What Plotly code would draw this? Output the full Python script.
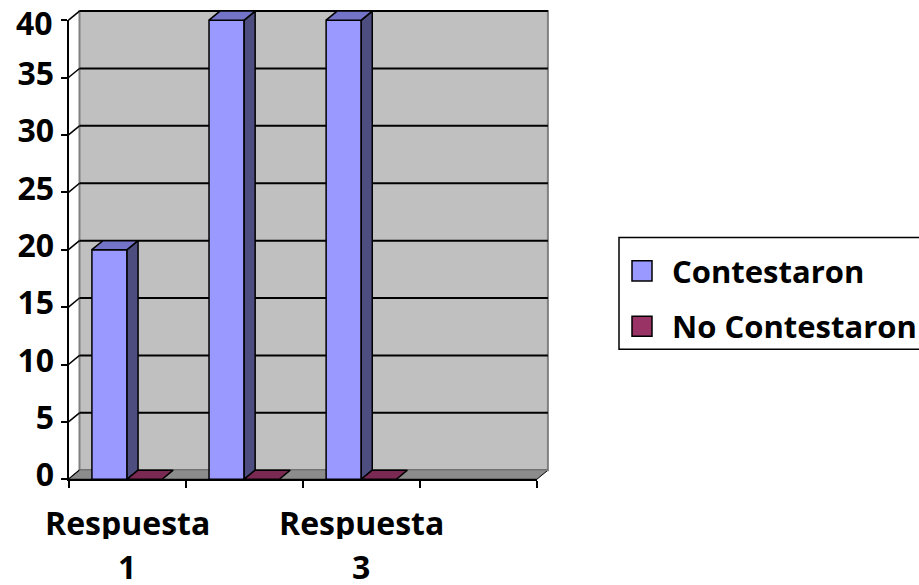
import plotly.graph_objects as go

# ---- data -------------------------------------------------------------
categories = ["Respuesta 1", "Respuesta 2", "Respuesta 3", "Respuesta 4"]
series_names = ["Contestaron", "No Contestaron"]
contestaron = [20, 40, 40, None]
no_contestaron = [0, 0, 0, None]
y_ticks = [0, 5, 10, 15, 20, 25, 30, 35, 40]

# ---- styling / frame ----------------------------------------------------
W, H = 919, 605
REF_H = 585
SY = H / REF_H                    # vertical layout scale
X0, CAT_PX = 68.5, 117.1          # front plane: left edge and category width (px)
Y0, UNIT_PX = 476 * SY, 11.4 * SY # front plane: baseline and px per unit
DEPTH_X_PX, DEPTH_Y_PX = 11, 9 * SY
YMAX = 40
N = len(categories)
dx = DEPTH_X_PX / CAT_PX
dy = DEPTH_Y_PX / UNIT_PX
BAR_W = 0.3
BAR_START = 0.2

FRONT = ["#9999FF", "#993366"]
SIDE = ["#4D4D80", "#4D1A33"]
TOP = ["#7373C8", "#7A2952"]
WALL = "#C0C0C0"
FLOOR = "#8C8C8C"
FONT = dict(family="Open Sans", size=32, color="black", weight="bold")
LEG_FONT = dict(family="Open Sans", size=31, color="black", weight="bold")

fig = go.Figure()


def py(v):
    """Vertical pixel position (reference units) -> paper fraction."""
    return 1 - v * SY / H


def poly(xs, ys, fill, line="black", width=1.5):
    fig.add_trace(go.Scatter(
        x=list(xs) + [xs[0]], y=list(ys) + [ys[0]], mode="lines",
        fill="toself", fillcolor=fill, line=dict(color=line, width=width),
        hoverinfo="skip", showlegend=False, xaxis="x", yaxis="y"))


def seg(xs, ys, color="black", width=1.5):
    fig.add_trace(go.Scatter(
        x=xs, y=ys, mode="lines", line=dict(color=color, width=width),
        hoverinfo="skip", showlegend=False, xaxis="x", yaxis="y"))


# back wall
poly([dx, N + dx, N + dx, dx], [dy, dy, YMAX + dy, YMAX + dy], WALL, "#808080", 2)
# gridlines on the back wall and their diagonals across the side wall
for t in y_ticks:
    if t > 0:
        seg([dx, N + dx], [t + dy, t + dy], "black", 2)
    seg([0, dx], [t, t + dy], "black", 1.5)
# floor
poly([0, N, N + dx, dx], [0, 0, dy, dy], FLOOR, "black", 1)
seg([dx, N + dx], [dy, dy], "#808080", 1.5)

# bars
for k, vals in enumerate([contestaron, no_contestaron]):
    for i, v in enumerate(vals):
        if v is None:
            continue
        x0 = i + BAR_START + k * BAR_W
        x1 = x0 + BAR_W
        if v > 0:
            poly([x0, x1, x1, x0], [0, 0, v, v], FRONT[k])
            poly([x1, x1 + dx, x1 + dx, x1], [0, dy, v + dy, v], SIDE[k])
        poly([x0, x1, x1 + dx, x0 + dx], [v, v, v + dy, v + dy], TOP[k])

# front axes (ticks, labels and axis lines)
fig.add_trace(go.Scatter(x=[None], y=[None], xaxis="x2", yaxis="y2",
                         showlegend=False, hoverinfo="skip"))

# the top tick label sits against the page edge, so it is drawn as a
# text box that starts at the top of the page
fig.add_annotation(x=55 / W, xref="paper", y=1, yref="paper",
                   text=str(y_ticks[-1]), showarrow=False, font=FONT,
                   height=int(round(2 * (Y0 - YMAX * UNIT_PX))),
                   xanchor="right", yanchor="top", valign="middle")

# category labels (every other category is labelled)
for i, name in enumerate(categories):
    if i % 2:
        continue
    word, num = name.split(" ")
    fig.add_annotation(x=i + 0.5, xref="x2", y=py(518), yref="paper",
                       text=word, showarrow=False, font=FONT, height=34,
                       xanchor="center", yanchor="middle", valign="middle")
    fig.add_annotation(x=i + 0.5, xref="x2", y=py(562), yref="paper",
                       text=num, showarrow=False, font=FONT, height=30,
                       xanchor="center", yanchor="middle", valign="middle")

# legend box
fig.add_shape(type="rect", xref="paper", yref="paper",
              x0=619 / W, x1=1.05, y0=py(347), y1=py(236),
              line=dict(color="black", width=1.5), fillcolor="white", layer="above")
for k, name in enumerate(series_names):
    cy = 269 + k * 55
    fig.add_shape(type="rect", xref="paper", yref="paper",
                  x0=632 / W, x1=652 / W, y0=py(cy + 10), y1=py(cy - 10),
                  line=dict(color="black", width=1.5), fillcolor=FRONT[k], layer="above")
    fig.add_annotation(x=670 / W, xref="paper", y=py(cy), yref="paper",
                       text=name, showarrow=False, font=LEG_FONT,
                       xanchor="left", yanchor="middle")

fig.update_layout(
    width=W, height=H,
    margin=dict(l=0, r=0, t=0, b=0),
    paper_bgcolor="white", plot_bgcolor="rgba(0,0,0,0)",
    showlegend=False,
    xaxis=dict(domain=[0, 1], range=[-X0 / CAT_PX, (W - X0) / CAT_PX],
               visible=False, fixedrange=True),
    yaxis=dict(domain=[0, 1], range=[-(H - Y0) / UNIT_PX, Y0 / UNIT_PX],
               visible=False, fixedrange=True),
    xaxis2=dict(domain=[X0 / W, (X0 + N * CAT_PX) / W], range=[0, N],
                anchor="y2", tickvals=list(range(N + 1)), ticks="outside",
                ticklen=7, tickwidth=2, tickcolor="black", showticklabels=False,
                showline=True, linecolor="black", linewidth=2,
                showgrid=False, zeroline=False),
    yaxis2=dict(domain=[1 - Y0 / H, 1 - (Y0 - YMAX * UNIT_PX) / H],
                range=[0, YMAX * 1.0005],
                anchor="x2", tickvals=y_ticks,
                ticktext=[str(t) if t < YMAX else "" for t in y_ticks],
                ticks="outside", ticklen=6,
                tickwidth=2, tickcolor="black", tickfont=FONT,
                ticklabelshift=-4,
                showline=True, linecolor="black", linewidth=2,
                showgrid=False, zeroline=False),
)

fig.write_html("out.html")
